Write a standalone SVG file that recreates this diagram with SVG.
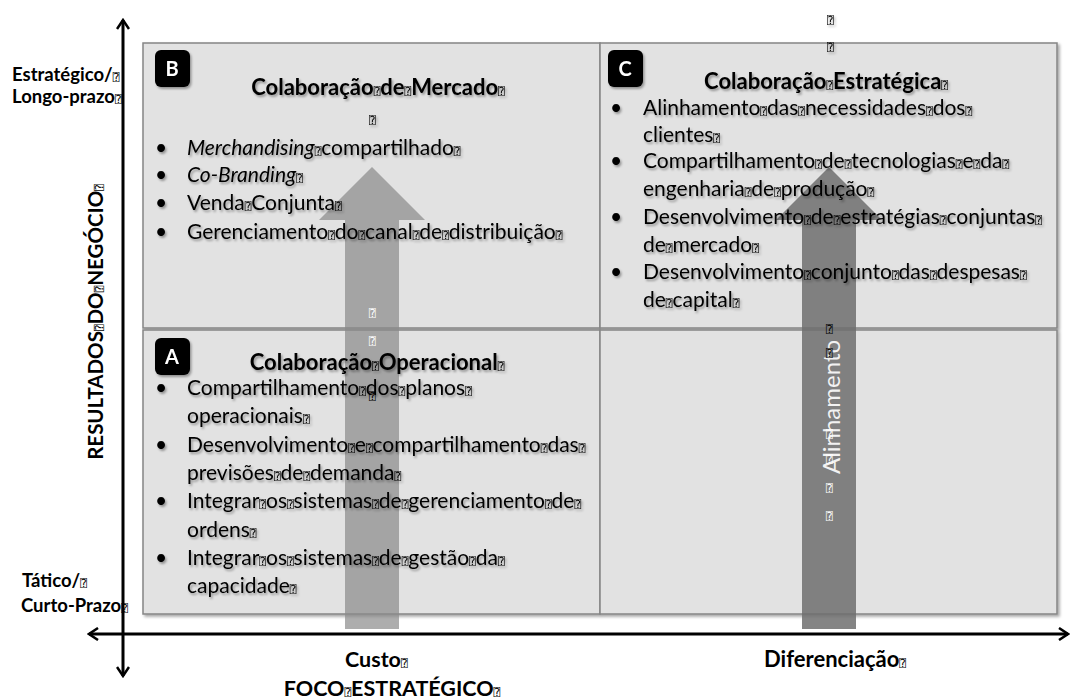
<svg xmlns="http://www.w3.org/2000/svg" width="1071" height="699" viewBox="0 0 1071 699">
<style>
text{font-family:Lato,"Liberation Sans",sans-serif;fill:#000}
.b{font-size:21px}
.t{font-size:22px;font-weight:bold;text-anchor:middle}
.ax{font-size:18.5px;font-weight:bold}
.axl{font-size:21.5px;font-weight:bold}
.badge{font-size:20px;font-weight:bold;fill:#fff;text-anchor:middle}
.m{font-family:"DejaVu Sans Mono",monospace;font-size:11px;font-weight:normal;font-style:normal}
.w{fill:#fff}
.q{fill:#e2e2e2;stroke:#858585;stroke-width:1.5}
.axis{stroke:#000;stroke-width:3;fill:none}
</style>
<defs>
<filter id="sh" x="-5%" y="-5%" width="115%" height="115%"><feDropShadow dx="2" dy="2" stdDeviation="1.5" flood-color="#000" flood-opacity="0.35"/></filter>
<filter id="ts" x="-5%" y="-20%" width="110%" height="160%"><feDropShadow dx="1.5" dy="2" stdDeviation="1.3" flood-color="#000" flood-opacity="0.35"/></filter>
<marker id="ah" viewBox="0 0 12 14" refX="10" refY="7" markerWidth="12" markerHeight="14" markerUnits="userSpaceOnUse" orient="auto-start-reverse"><path d="M1,1 L10,7 L1,13" fill="none" stroke="#000" stroke-width="2.5"/></marker>
</defs>

<g id="quadrants" filter="url(#sh)">
<rect class="q" x="143" y="43" width="457" height="285"/>
<rect class="q" x="600" y="43" width="457" height="285"/>
<rect class="q" x="143" y="330" width="457" height="284"/>
<rect class="q" x="600" y="330" width="457" height="284"/>
</g>

<g id="arrow-custo">
<path d="M345,629 L345,220 L319,220 L372,167 L425,220 L399,220 L399,629 Z" fill="#8a8a8a" opacity="0.7"/>
<text class="m w" x="369" y="317">⍰</text>
<text class="m w" x="369" y="345">⍰</text>
<text class="m" x="369" y="400">⍰</text>
</g>

<g id="arrow-alinhamento">
<path d="M802,629 L802,220 L776,220 L829,167 L882,220 L856,220 L856,629 Z" fill="#6e6e6e" opacity="0.85"/>
<text x="840" y="407" transform="rotate(-90 840 407)" style="font-size:24px;text-anchor:middle;fill:#f2f2f2">Alinhamento</text>
<text class="m" x="826" y="333">⍰</text>
<text class="m" x="826" y="357">⍰</text>
<text class="m w" x="826" y="438">⍰</text>
<text class="m w" x="826" y="463">⍰</text>
<text class="m w" x="826" y="492">⍰</text>
<text class="m w" x="826" y="520">⍰</text>
</g>

<g id="node-B" filter="url(#ts)">
<rect x="155" y="50" width="35" height="37" rx="6" fill="#000"/>
<text class="badge" x="172" y="76">B</text>
<text class="t" x="378" y="95">Colaboração<tspan class="m">⍰</tspan>de<tspan class="m">⍰</tspan>Mercado<tspan class="m">⍰</tspan></text>
<text class="m" x="369" y="124">⍰</text>
<text class="b" x="155" y="155">•</text>
<text class="b" x="187" y="155"><tspan font-style="italic">Merchandising</tspan><tspan class="m">⍰</tspan>compartilhado<tspan class="m">⍰</tspan></text>
<text class="b" x="155" y="182">•</text>
<text class="b" x="187" y="182"><tspan font-style="italic">Co-Branding</tspan><tspan class="m">⍰</tspan></text>
<text class="b" x="155" y="210">•</text>
<text class="b" x="187" y="210">Venda<tspan class="m">⍰</tspan>Conjunta<tspan class="m">⍰</tspan></text>
<text class="b" x="155" y="239">•</text>
<text class="b" x="187" y="239">Gerenciamento<tspan class="m">⍰</tspan>do<tspan class="m">⍰</tspan>canal<tspan class="m">⍰</tspan>de<tspan class="m">⍰</tspan>distribuição<tspan class="m">⍰</tspan></text>
</g>

<g id="node-C" filter="url(#ts)">
<text class="m" x="827" y="24">⍰</text>
<text class="m" x="827" y="51">⍰</text>
<rect x="608" y="50" width="35" height="37" rx="6" fill="#000"/>
<text class="badge" x="625" y="76">C</text>
<text class="t" x="826" y="89">Colaboração<tspan class="m">⍰</tspan>Estratégica<tspan class="m">⍰</tspan></text>
<text class="b" x="610" y="115">•</text>
<text class="b" x="643" y="115">Alinhamento<tspan class="m">⍰</tspan>das<tspan class="m">⍰</tspan>necessidades<tspan class="m">⍰</tspan>dos<tspan class="m">⍰</tspan></text>
<text class="b" x="643" y="142">clientes<tspan class="m">⍰</tspan></text>
<text class="b" x="610" y="168">•</text>
<text class="b" x="643" y="168">Compartilhamento<tspan class="m">⍰</tspan>de<tspan class="m">⍰</tspan>tecnologias<tspan class="m">⍰</tspan>e<tspan class="m">⍰</tspan>da<tspan class="m">⍰</tspan></text>
<text class="b" x="643" y="196">engenharia<tspan class="m">⍰</tspan>de<tspan class="m">⍰</tspan>produção<tspan class="m">⍰</tspan></text>
<text class="b" x="610" y="224">•</text>
<text class="b" x="643" y="224">Desenvolvimento<tspan class="m">⍰</tspan>de<tspan class="m">⍰</tspan>estratégias<tspan class="m">⍰</tspan>conjuntas<tspan class="m">⍰</tspan></text>
<text class="b" x="643" y="252">de<tspan class="m">⍰</tspan>mercado<tspan class="m">⍰</tspan></text>
<text class="b" x="610" y="279">•</text>
<text class="b" x="643" y="279">Desenvolvimento<tspan class="m">⍰</tspan>conjunto<tspan class="m">⍰</tspan>das<tspan class="m">⍰</tspan>despesas<tspan class="m">⍰</tspan></text>
<text class="b" x="643" y="307">de<tspan class="m">⍰</tspan>capital<tspan class="m">⍰</tspan></text>
</g>

<g id="node-A" filter="url(#ts)">
<rect x="155" y="338" width="35" height="37" rx="6" fill="#000"/>
<text class="badge" x="172" y="364">A</text>
<text class="t" x="377" y="370">Colaboração<tspan class="m">⍰</tspan>Operacional<tspan class="m">⍰</tspan></text>
<text class="b" x="155" y="395">•</text>
<text class="b" x="187" y="395">Compartilhamento<tspan class="m">⍰</tspan>dos<tspan class="m">⍰</tspan>planos<tspan class="m">⍰</tspan></text>
<text class="b" x="187" y="423">operacionais<tspan class="m">⍰</tspan></text>
<text class="b" x="155" y="452">•</text>
<text class="b" x="187" y="452">Desenvolvimento<tspan class="m">⍰</tspan>e<tspan class="m">⍰</tspan>compartilhamento<tspan class="m">⍰</tspan>das<tspan class="m">⍰</tspan></text>
<text class="b" x="187" y="480">previsões<tspan class="m">⍰</tspan>de<tspan class="m">⍰</tspan>demanda<tspan class="m">⍰</tspan></text>
<text class="b" x="155" y="508">•</text>
<text class="b" x="187" y="508">Integrar<tspan class="m">⍰</tspan>os<tspan class="m">⍰</tspan>sistemas<tspan class="m">⍰</tspan>de<tspan class="m">⍰</tspan>gerenciamento<tspan class="m">⍰</tspan>de<tspan class="m">⍰</tspan></text>
<text class="b" x="187" y="537">ordens<tspan class="m">⍰</tspan></text>
<text class="b" x="155" y="565">•</text>
<text class="b" x="187" y="565">Integrar<tspan class="m">⍰</tspan>os<tspan class="m">⍰</tspan>sistemas<tspan class="m">⍰</tspan>de<tspan class="m">⍰</tspan>gestão<tspan class="m">⍰</tspan>da<tspan class="m">⍰</tspan></text>
<text class="b" x="187" y="593">capacidade<tspan class="m">⍰</tspan></text>
</g>

<g id="node-D"></g>

<g id="connectors">
<line class="axis" x1="123" y1="676" x2="123" y2="20" marker-start="url(#ah)" marker-end="url(#ah)"/>
<line class="axis" x1="89" y1="634" x2="1068" y2="634" marker-start="url(#ah)" marker-end="url(#ah)"/>
</g>

<g id="axis-labels">
<text class="ax" x="12" y="81">Estratégico/<tspan class="m">⍰</tspan></text>
<text class="ax" x="12" y="103">Longo-prazo<tspan class="m">⍰</tspan></text>
<text class="ax" x="22" y="587">Tático/<tspan class="m">⍰</tspan></text>
<text class="ax" x="21" y="612">Curto-Prazo<tspan class="m">⍰</tspan></text>
<text class="axl" x="103" y="322" transform="rotate(-90 103 322)" text-anchor="middle" style="font-size:20.5px">RESULTADOS<tspan class="m">⍰</tspan>DO<tspan class="m">⍰</tspan>NEGÓCIO<tspan class="m">⍰</tspan></text>
<text class="axl" x="345" y="667">Custo<tspan class="m">⍰</tspan></text>
<text class="axl" x="835" y="667" text-anchor="middle" style="font-size:22px">Diferenciação<tspan class="m">⍰</tspan></text>
<text class="axl" x="392" y="696" text-anchor="middle">FOCO<tspan class="m">⍰</tspan>ESTRATÉGICO<tspan class="m">⍰</tspan></text>
</g>
</svg>
